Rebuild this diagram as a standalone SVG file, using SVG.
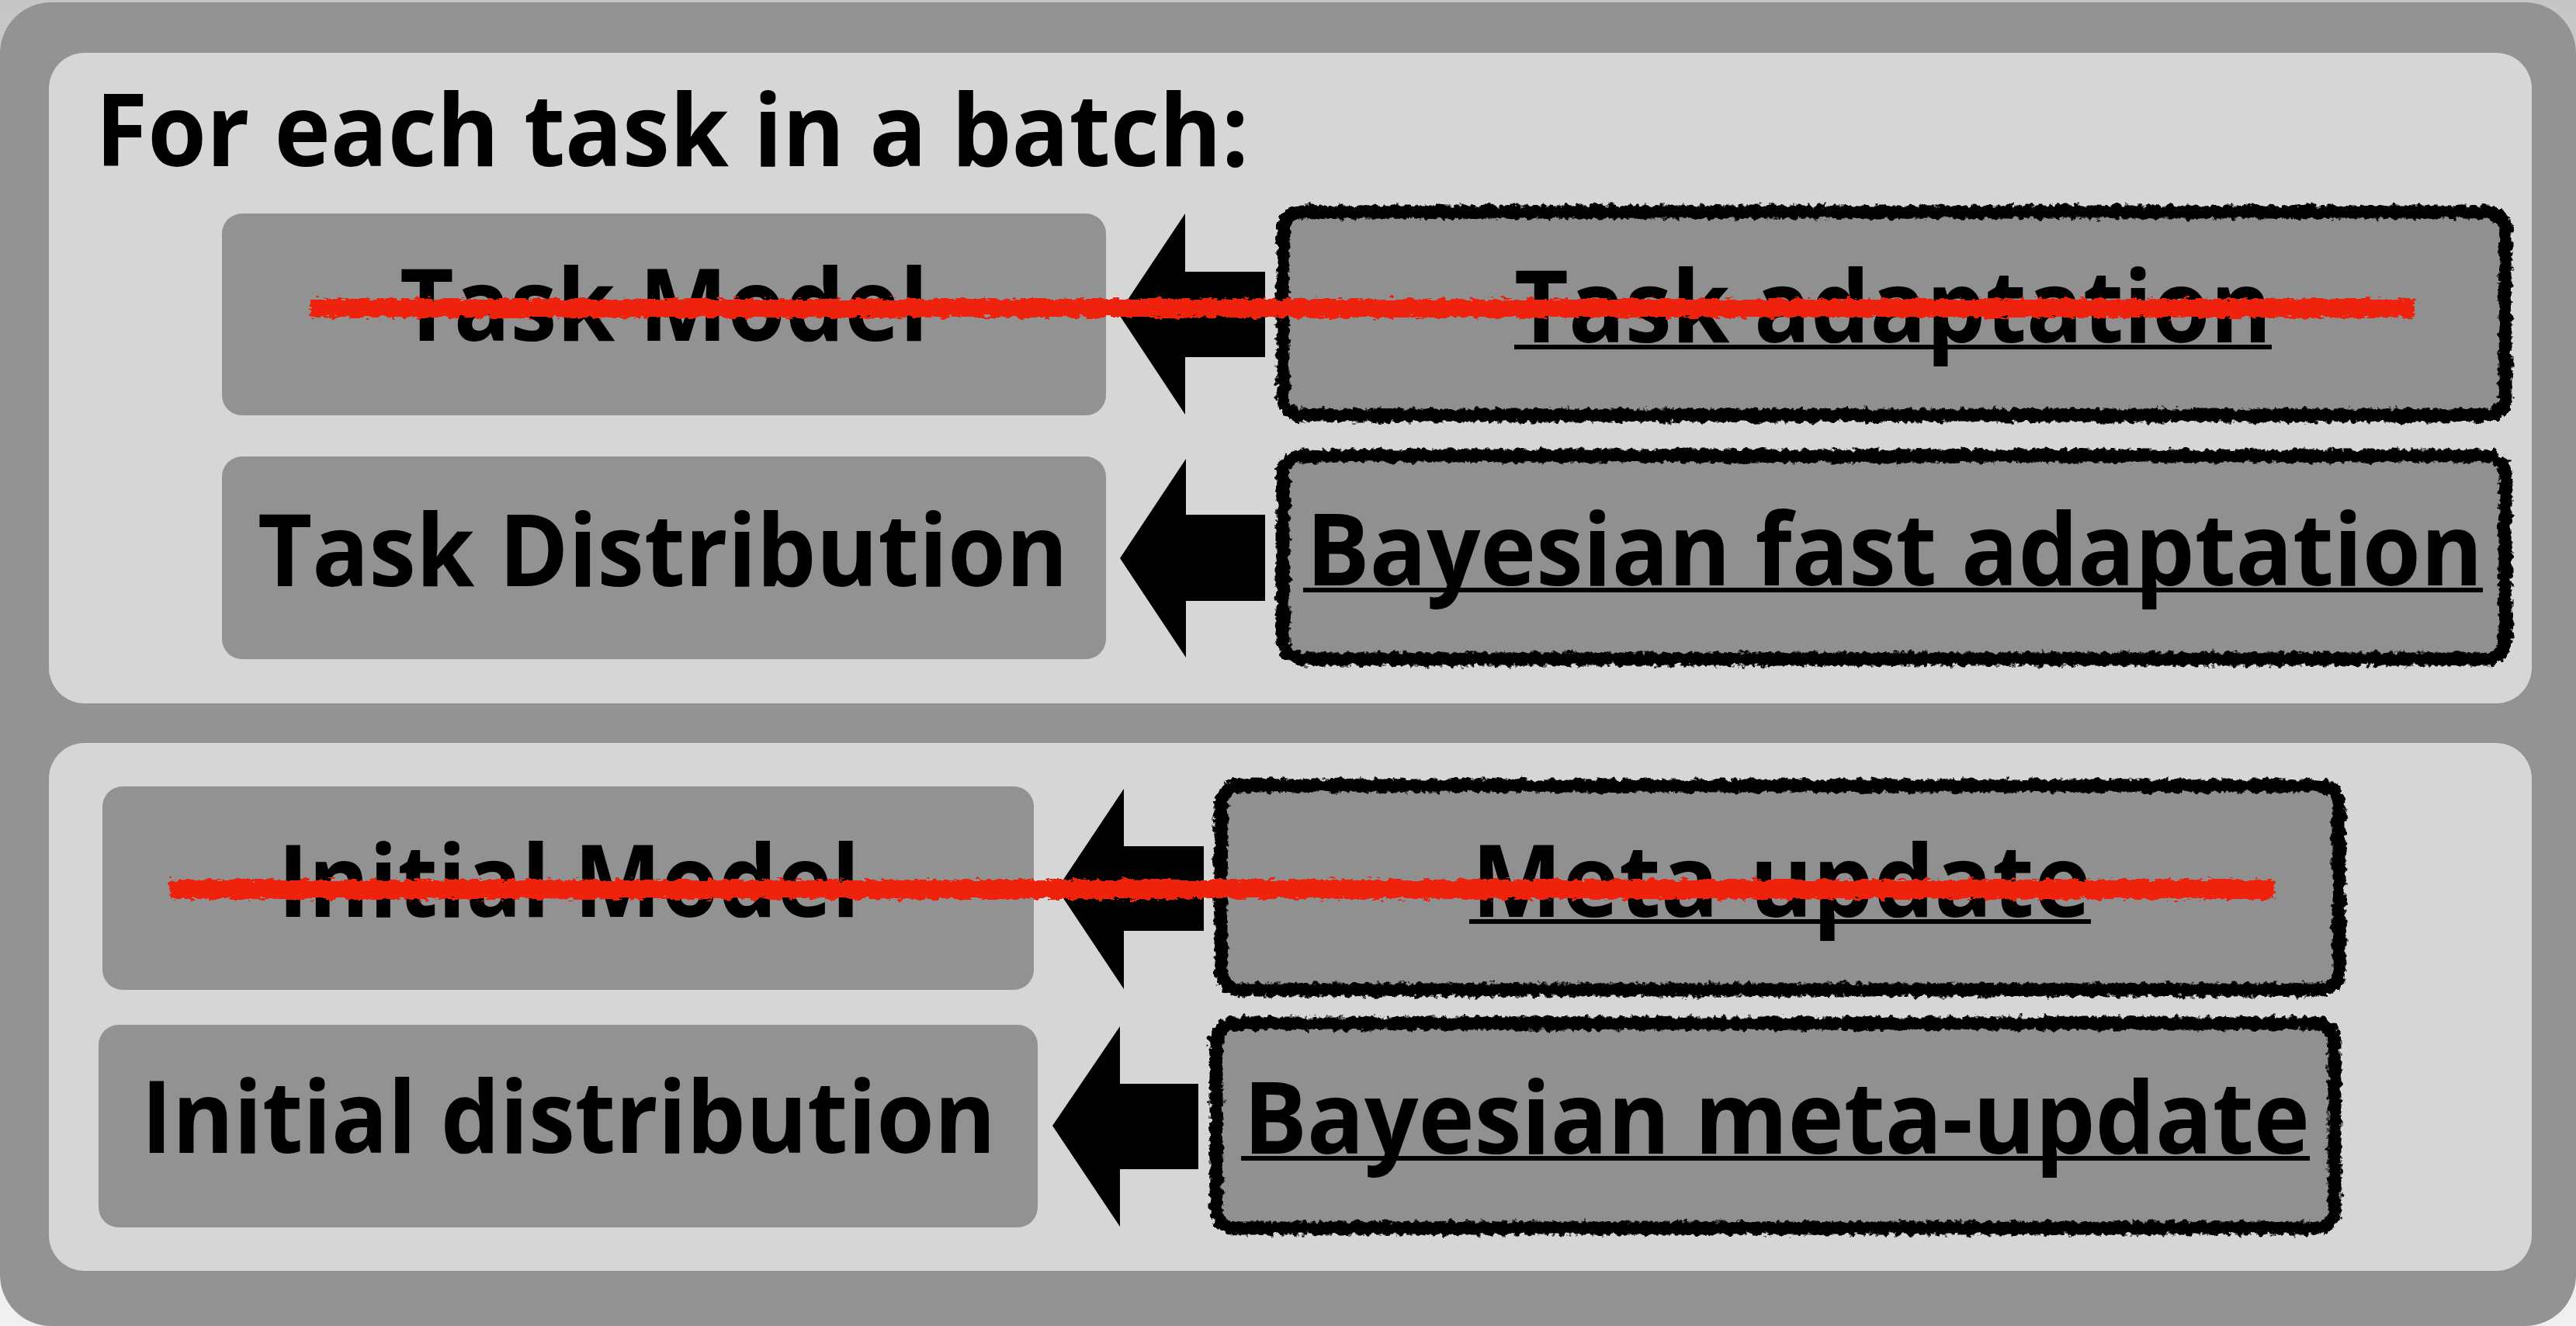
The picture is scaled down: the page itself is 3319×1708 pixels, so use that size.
<svg xmlns="http://www.w3.org/2000/svg" width="3319" height="1708" viewBox="0 0 3319 1708">
  <defs>
    <linearGradient id="pageBg" x1="0" y1="0" x2="0" y2="1">
      <stop offset="0" stop-color="#c6c6c6"/>
      <stop offset="1" stop-color="#f0f0f0"/>
    </linearGradient>
    <!-- chalky, hand-drawn edge for the sketched borders -->
    <filter id="rough" filterUnits="userSpaceOnUse" x="0" y="0" width="3319" height="1708">
      <feTurbulence type="fractalNoise" baseFrequency="0.12 0.12" numOctaves="3" seed="4" result="noise"/>
      <feDisplacementMap in="SourceGraphic" in2="noise" scale="12" xChannelSelector="R" yChannelSelector="G"/>
    </filter>
    <filter id="rough2" filterUnits="userSpaceOnUse" x="0" y="0" width="3319" height="1708">
      <feTurbulence type="fractalNoise" baseFrequency="0.2 0.09" numOctaves="3" seed="11" result="noise"/>
      <feDisplacementMap in="SourceGraphic" in2="noise" scale="10" xChannelSelector="R" yChannelSelector="G"/>
    </filter>
    <!-- scribbled strike-through -->
    <filter id="scribble" filterUnits="userSpaceOnUse" x="0" y="0" width="3319" height="1708">
      <feTurbulence type="fractalNoise" baseFrequency="0.09 0.25" numOctaves="3" seed="7" result="noise"/>
      <feDisplacementMap in="SourceGraphic" in2="noise" scale="12" xChannelSelector="R" yChannelSelector="G"/>
    </filter>
    <filter id="scribble2" filterUnits="userSpaceOnUse" x="0" y="0" width="3319" height="1708">
      <feTurbulence type="fractalNoise" baseFrequency="0.15 0.3" numOctaves="2" seed="19" result="noise"/>
      <feDisplacementMap in="SourceGraphic" in2="noise" scale="10" xChannelSelector="R" yChannelSelector="G"/>
    </filter>
  </defs>
  <style>
    .panel { fill: #d6d6d6; }
    .box { fill: #929292; }
    .sketchFill { fill: #909090; }
    .sketchLine { fill: none; stroke: #000; stroke-width: 17; }
    .sketchLine2 { fill: none; stroke: #000; stroke-width: 7; }
    .lbl { font-family: "Open Sans", "Noto Sans", "Liberation Sans", sans-serif; font-weight: 700; font-size: 129px; fill: #000; }
    .uline { fill: #000; }
    .arrow { fill: #000; }
    .strike { fill: #ee2211; }
  </style>

  <!-- page and frame -->
  <rect x="0" y="0" width="3319" height="1708" fill="url(#pageBg)"/>
  <rect x="0" y="3" width="3319" height="1705" rx="66" ry="66" fill="#939393"/>
  <rect class="panel" x="63" y="68" width="3199" height="838" rx="46" ry="46"/>
  <rect class="panel" x="63" y="957" width="3199" height="680" rx="46" ry="46"/>

  <g id="title">
    <text class="lbl" x="123" y="214" textLength="1486" lengthAdjust="spacingAndGlyphs">For each task in a batch:</text>
  </g>

  <!-- left column: models / distributions -->
  <g id="task-model">
    <rect class="box" x="286" y="275" width="1139" height="260" rx="26" ry="26"/>
    <text class="lbl" x="515" y="439" textLength="681" lengthAdjust="spacingAndGlyphs">Task Model</text>
  </g>
  <g id="task-distribution">
    <rect class="box" x="286" y="588" width="1139" height="261" rx="26" ry="26"/>
    <text class="lbl" x="332" y="755" textLength="1044" lengthAdjust="spacingAndGlyphs">Task Distribution</text>
  </g>
  <g id="initial-model">
    <rect class="box" x="132" y="1013" width="1200" height="262" rx="26" ry="26"/>
    <text class="lbl" x="358" y="1181" textLength="750" lengthAdjust="spacingAndGlyphs">Initial Model</text>
  </g>
  <g id="initial-distribution">
    <rect class="box" x="127" y="1320" width="1210" height="261" rx="26" ry="26"/>
    <text class="lbl" x="182" y="1485" textLength="1101" lengthAdjust="spacingAndGlyphs">Initial distribution</text>
  </g>

  <!-- right column: update steps with sketched borders -->
  <g id="task-adaptation">
    <rect class="sketchFill" x="1653" y="273" width="1575" height="262" rx="24" ry="24"/>
    <rect class="sketchLine" x="1653" y="273" width="1575" height="262" rx="24" ry="24" filter="url(#rough)"/>
    <rect class="sketchLine2" x="1656" y="276" width="1569" height="256" rx="22" ry="22" filter="url(#rough2)"/>
    <text class="lbl" x="1951" y="441" textLength="976" lengthAdjust="spacingAndGlyphs">Task adaptation</text>
    <rect class="uline" x="1951" y="444" width="976" height="6"/>
  </g>
  <g id="bayesian-fast-adaptation">
    <rect class="sketchFill" x="1653" y="587" width="1575" height="262" rx="24" ry="24"/>
    <rect class="sketchLine" x="1653" y="587" width="1575" height="262" rx="24" ry="24" filter="url(#rough)"/>
    <rect class="sketchLine2" x="1656" y="590" width="1569" height="256" rx="22" ry="22" filter="url(#rough2)"/>
    <text class="lbl" x="1683" y="754" textLength="1516" lengthAdjust="spacingAndGlyphs">Bayesian fast adaptation</text>
    <rect class="uline" x="1679" y="757" width="1520" height="6"/>
  </g>
  <g id="meta-update">
    <rect class="sketchFill" x="1573" y="1012" width="1441" height="263" rx="24" ry="24"/>
    <rect class="sketchLine" x="1573" y="1012" width="1441" height="263" rx="24" ry="24" filter="url(#rough)"/>
    <rect class="sketchLine2" x="1576" y="1015" width="1435" height="257" rx="22" ry="22" filter="url(#rough2)"/>
    <text class="lbl" x="1896" y="1181" textLength="798" lengthAdjust="spacingAndGlyphs">Meta-update</text>
    <rect class="uline" x="1893" y="1184" width="801" height="6"/>
  </g>
  <g id="bayesian-meta-update">
    <rect class="sketchFill" x="1567" y="1318" width="1441" height="264" rx="24" ry="24"/>
    <rect class="sketchLine" x="1567" y="1318" width="1441" height="264" rx="24" ry="24" filter="url(#rough)"/>
    <rect class="sketchLine2" x="1570" y="1321" width="1435" height="258" rx="22" ry="22" filter="url(#rough2)"/>
    <text class="lbl" x="1602" y="1486" textLength="1374" lengthAdjust="spacingAndGlyphs">Bayesian meta-update</text>
    <rect class="uline" x="1599" y="1489" width="1377" height="6"/>
  </g>

  <!-- block arrows pointing from each step back to its model -->
  <g id="connectors">
    <polygon class="arrow" points="1441,404 1527,275 1527,350 1630,350 1630,460 1527,460 1527,534"/>
    <polygon class="arrow" points="1443,719 1528,591 1528,663 1630,663 1630,774 1528,774 1528,847"/>
    <polygon class="arrow" points="1362,1145 1448,1016 1448,1090 1551,1090 1551,1199 1448,1199 1448,1274"/>
    <polygon class="arrow" points="1356,1450 1443,1322 1443,1396 1544,1396 1544,1506 1443,1506 1443,1580"/>
  </g>

  <!-- red strike-throughs across the replaced rows -->
  <g id="strikes">
    <rect class="strike" x="400" y="385" width="2711" height="24" filter="url(#scribble)"/>
    <rect class="strike" x="402" y="388" width="2707" height="16" filter="url(#scribble2)"/>
    <rect class="strike" x="219" y="1133" width="2711" height="25" filter="url(#scribble)"/>
    <rect class="strike" x="221" y="1137" width="2707" height="16" filter="url(#scribble2)"/>
  </g>
</svg>
